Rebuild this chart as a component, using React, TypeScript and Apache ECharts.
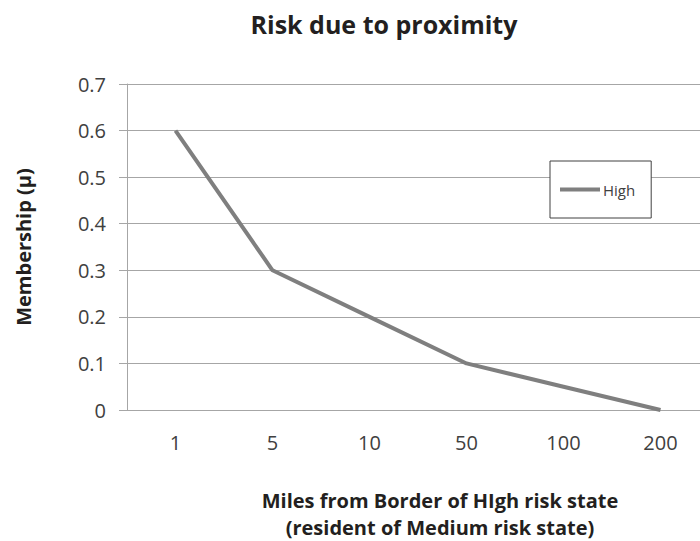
import React, { useEffect, useRef } from "react";
import * as echarts from "echarts";

const categories = ["1", "5", "10", "50", "100", "200"];
const highValues = [0.6, 0.3, 0.2, 0.1, 0.05, 0];
const titleText = "Risk due to proximity";
const xName = "Miles from Border of HIgh risk state\n(resident of Medium risk state)";
const yName = "Membership (\u00b5)";

export default function App() {
  const ref = useRef<HTMLDivElement>(null);
  useEffect(() => {
    const chart = echarts.init(ref.current!, null, { renderer: "svg" });
    const labelFont = "'Open Sans', 'Liberation Sans', sans-serif";
    const boldFont = "'Open Sans', 'Noto Sans', sans-serif";
    chart.setOption({
      animation: false,
      backgroundColor: "#ffffff",
      title: {
        text: titleText,
        left: 379,
        top: 6,
        textAlign: "center",
        textStyle: { fontFamily: boldFont, fontWeight: "bold", fontSize: 25, color: "#231f20" },
      },
      legend: {
        data: ["High"],
        left: 550,
        top: 161,
        orient: "horizontal",
        backgroundColor: "#ffffff",
        borderColor: "#404040",
        borderWidth: 1,
        borderRadius: 0,
        padding: [21, 16, 21, 10],
        itemWidth: 40,
        itemHeight: 4,
        itemGap: 0,
        icon: "rect",
        textStyle: { fontFamily: labelFont, fontSize: 15, color: "#404040", padding: [0, 0, 0, -2] },
      },
      grid: { left: 127, top: 84, width: 582, height: 326, containLabel: false },
      xAxis: {
        type: "category",
        data: categories,
        boundaryGap: true,
        axisLine: { show: true, lineStyle: { color: "#a6a6a6", width: 1 } },
        axisTick: { show: false },
        axisLabel: { margin: 22, fontFamily: labelFont, fontSize: 20, color: "#404040" },
        splitLine: { show: false },
      },
      yAxis: {
        type: "value",
        min: 0,
        max: 0.7,
        interval: 0.1,
        name: yName,
        nameLocation: "middle",
        nameGap: 94,
        nameRotate: 90,
        nameTextStyle: { fontFamily: boldFont, fontWeight: "bold", fontSize: 20, color: "#231f20" },
        axisLine: { show: true, lineStyle: { color: "#a6a6a6", width: 1 } },
        axisTick: { show: true, length: 8, lineStyle: { color: "#a6a6a6" } },
        axisLabel: {
          margin: 21,
          fontFamily: labelFont,
          fontSize: 20,
          color: "#404040",
          formatter: (v: number) => (v === 0 ? "0" : String(Math.round(v * 10) / 10)),
        },
        splitLine: { show: true, lineStyle: { color: "#a6a6a6", width: 1 } },
      },
      series: [
        {
          name: "High",
          type: "line",
          data: highValues,
          symbol: "none",
          lineStyle: { color: "#7f7f7f", width: 4 },
          itemStyle: { color: "#7f7f7f" },
        },
      ],
      graphic: [
        {
          type: "text",
          x: 440,
          y: 487,
          style: {
            text: xName,
            align: "center",
            verticalAlign: "top",
            fontFamily: boldFont,
            fontWeight: "bold",
            fontSize: 20,
            lineHeight: 27,
            fill: "#231f20",
          },
        },
      ],
    });
    return () => chart.dispose();
  }, []);
  return (
    <div style={{ width: 700, height: 541, position: "absolute", left: 0, top: 0, overflow: "hidden" }}>
      <div ref={ref} style={{ width: 712, height: 541 }} />
    </div>
  );
}
